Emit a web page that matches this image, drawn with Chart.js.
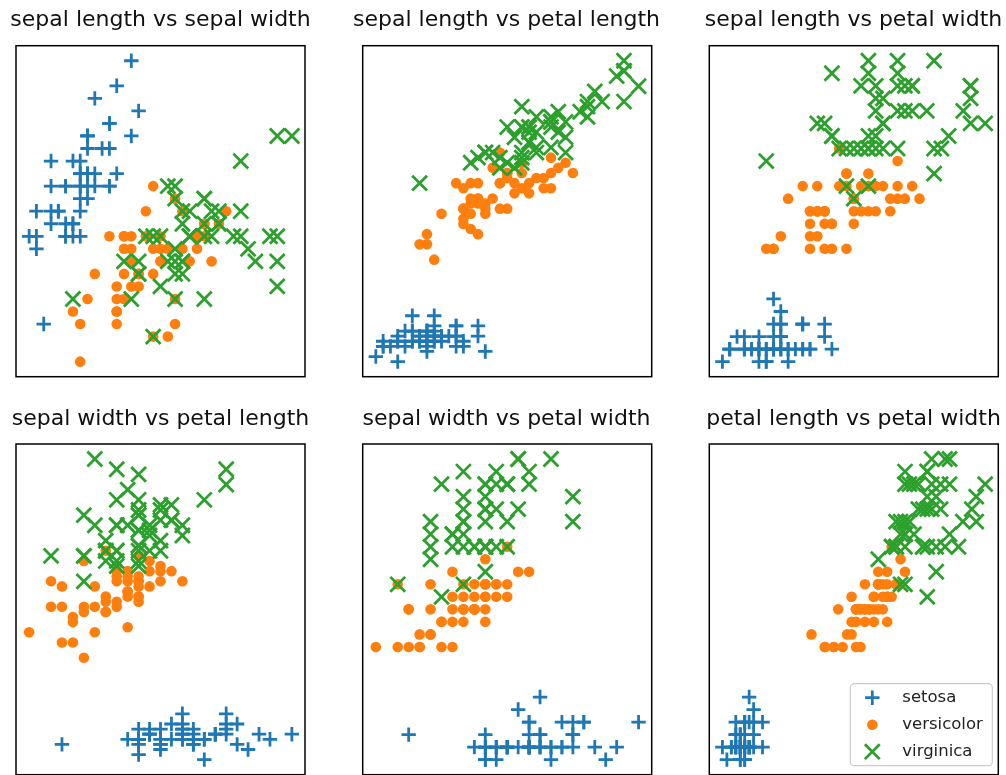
<!DOCTYPE html>
<html>
<head>
<meta charset="utf-8">
<script src="https://cdn.jsdelivr.net/npm/chart.js@4.4.1/dist/chart.umd.min.js"></script>
<style>
  html, body { margin: 0; padding: 0; background: #fff; }
  body { width: 1006px; height: 775px; overflow: hidden; position: relative; }
  canvas { position: absolute; }
</style>
</head>
<body>
<script>
// Iris data, one array per species and feature
const setosaSepalLength = [5.1,4.9,4.7,4.6,5.0,5.4,4.6,5.0,4.4,4.9,5.4,4.8,4.8,4.3,5.8,5.7,5.4,5.1,5.7,5.1,5.4,5.1,4.6,5.1,4.8,5.0,5.0,5.2,5.2,4.7,4.8,5.4,5.2,5.5,4.9,5.0,5.5,4.9,4.4,5.1,5.0,4.5,4.4,5.0,5.1,4.8,5.1,4.6,5.3,5.0];
const setosaSepalWidth  = [3.5,3.0,3.2,3.1,3.6,3.9,3.4,3.4,2.9,3.1,3.7,3.4,3.0,3.0,4.0,4.4,3.9,3.5,3.8,3.8,3.4,3.7,3.6,3.3,3.4,3.0,3.4,3.5,3.4,3.2,3.1,3.4,4.1,4.2,3.1,3.2,3.5,3.6,3.0,3.4,3.5,2.3,3.2,3.5,3.8,3.0,3.8,3.2,3.7,3.3];
const setosaPetalLength = [1.4,1.4,1.3,1.5,1.4,1.7,1.4,1.5,1.4,1.5,1.5,1.6,1.4,1.1,1.2,1.5,1.3,1.4,1.7,1.5,1.7,1.5,1.0,1.7,1.9,1.6,1.6,1.5,1.4,1.6,1.6,1.5,1.5,1.4,1.5,1.2,1.3,1.4,1.3,1.5,1.3,1.3,1.3,1.6,1.9,1.4,1.6,1.4,1.5,1.4];
const setosaPetalWidth  = [0.2,0.2,0.2,0.2,0.2,0.4,0.3,0.2,0.2,0.1,0.2,0.2,0.1,0.1,0.2,0.4,0.4,0.3,0.3,0.3,0.2,0.4,0.2,0.5,0.2,0.2,0.4,0.2,0.2,0.2,0.2,0.4,0.1,0.2,0.2,0.2,0.2,0.1,0.2,0.2,0.3,0.3,0.2,0.6,0.4,0.3,0.2,0.2,0.2,0.2];

const versicolorSepalLength = [7.0,6.4,6.9,5.5,6.5,5.7,6.3,4.9,6.6,5.2,5.0,5.9,6.0,6.1,5.6,6.7,5.6,5.8,6.2,5.6,5.9,6.1,6.3,6.1,6.4,6.6,6.8,6.7,6.0,5.7,5.5,5.5,5.8,6.0,5.4,6.0,6.7,6.3,5.6,5.5,5.5,6.1,5.8,5.0,5.6,5.7,5.7,6.2,5.1,5.7];
const versicolorSepalWidth  = [3.2,3.2,3.1,2.3,2.8,2.8,3.3,2.4,2.9,2.7,2.0,3.0,2.2,2.9,2.9,3.1,3.0,2.7,2.2,2.5,3.2,2.8,2.5,2.8,2.9,3.0,2.8,3.0,2.9,2.6,2.4,2.4,2.7,2.7,3.0,3.4,3.1,2.3,3.0,2.5,2.6,3.0,2.6,2.3,2.7,3.0,2.9,2.9,2.5,2.8];
const versicolorPetalLength = [4.7,4.5,4.9,4.0,4.6,4.5,4.7,3.3,4.6,3.9,3.5,4.2,4.0,4.7,3.6,4.4,4.5,4.1,4.5,3.9,4.8,4.0,4.9,4.7,4.3,4.4,4.8,5.0,4.5,3.5,3.8,3.7,3.9,5.1,4.5,4.5,4.7,4.4,4.1,4.0,4.4,4.6,4.0,3.3,4.2,4.2,4.2,4.3,3.0,4.1];
const versicolorPetalWidth  = [1.4,1.5,1.5,1.3,1.5,1.3,1.6,1.0,1.3,1.4,1.0,1.5,1.0,1.4,1.3,1.4,1.5,1.0,1.5,1.1,1.8,1.3,1.5,1.2,1.3,1.4,1.4,1.7,1.5,1.0,1.1,1.0,1.2,1.6,1.5,1.6,1.5,1.3,1.3,1.3,1.2,1.4,1.2,1.0,1.3,1.2,1.3,1.3,1.1,1.3];

const virginicaSepalLength = [6.3,5.8,7.1,6.3,6.5,7.6,4.9,7.3,6.7,7.2,6.5,6.4,6.8,5.7,5.8,6.4,6.5,7.7,7.7,6.0,6.9,5.6,7.7,6.3,6.7,7.2,6.2,6.1,6.4,7.2,7.4,7.9,6.4,6.3,6.1,7.7,6.3,6.4,6.0,6.9,6.7,6.9,5.8,6.8,6.7,6.7,6.3,6.5,6.2,5.9];
const virginicaSepalWidth  = [3.3,2.7,3.0,2.9,3.0,3.0,2.5,2.9,2.5,3.6,3.2,2.7,3.0,2.5,2.8,3.2,3.0,3.8,2.6,2.2,3.2,2.8,2.8,2.7,3.3,3.2,2.8,3.0,2.8,3.0,2.8,3.8,2.8,2.8,2.6,3.0,3.4,3.1,3.0,3.1,3.1,3.1,2.7,3.2,3.3,3.0,2.5,3.0,3.4,3.0];
const virginicaPetalLength = [6.0,5.1,5.9,5.6,5.8,6.6,4.5,6.3,5.8,6.1,5.1,5.3,5.5,5.0,5.1,5.3,5.5,6.7,6.9,5.0,5.7,4.9,6.7,4.9,5.7,6.0,4.8,4.9,5.6,5.8,6.1,6.4,5.6,5.1,5.6,6.1,5.6,5.5,4.8,5.4,5.6,5.1,5.1,5.9,5.7,5.2,5.0,5.2,5.4,5.1];
const virginicaPetalWidth  = [2.5,1.9,2.1,1.8,2.2,2.1,1.7,1.8,1.8,2.5,2.0,1.9,2.1,2.0,2.4,2.3,1.8,2.2,2.3,1.5,2.3,2.0,2.0,1.8,2.1,1.8,1.8,1.8,2.1,1.6,1.9,2.0,2.2,1.5,1.4,2.3,2.4,1.8,1.8,2.1,2.4,2.3,1.9,2.3,2.5,2.3,1.9,2.0,2.3,1.8];

const speciesNames = ['setosa', 'versicolor', 'virginica'];
const featureNames = ['sepal length', 'sepal width', 'petal length', 'petal width'];
// axis limits = data range + 5% margin on each side
const featureMin = [4.12, 1.88, 0.705, -0.02];
const featureMax = [8.08, 4.52, 7.195, 2.62];
// pairs of features, one per panel
const panelPairs = [[0, 1], [0, 2], [0, 3], [1, 2], [1, 3], [2, 3]];

const speciesData = [
    [setosaSepalLength, setosaSepalWidth, setosaPetalLength, setosaPetalWidth],
    [versicolorSepalLength, versicolorSepalWidth, versicolorPetalLength, versicolorPetalWidth],
    [virginicaSepalLength, virginicaSepalWidth, virginicaPetalLength, virginicaPetalWidth]
];

const COLORS = ['#1f77b4', '#ff7f0e', '#2ca02c'];
const FONT = "'DejaVu Sans', sans-serif";

// geometry of the panels on the page
const colLeft = [16, 362.7, 709.3];
const rowTop = [45.7, 444];
const PANEL_W = 289;
const PANEL_H = 332;
const TITLE_SIZE = 22;
const TITLE_PAD_TOP = 7;
const TITLE_PAD_BOTTOM = 12;
const TITLE_BLOCK = TITLE_SIZE * 1.2 + TITLE_PAD_TOP + TITLE_PAD_BOTTOM;
const SIDE = 24; // free space on each side of a panel inside its canvas

function styleFor(s) {
    if (s === 0) return { pointStyle: 'cross', pointRadius: 7.2, borderColor: COLORS[0], backgroundColor: COLORS[0], pointBorderWidth: 2.8 };
    if (s === 1) return { pointStyle: 'circle', pointRadius: 5.3, borderColor: COLORS[1], backgroundColor: COLORS[1], pointBorderWidth: 0 };
    return { pointStyle: 'crossRot', pointRadius: 10.5, borderColor: COLORS[2], backgroundColor: COLORS[2], pointBorderWidth: 2.8 };
}

const framePlugin = {
    id: 'frame',
    afterDatasetsDraw(chart) {
        const { ctx, chartArea: a } = chart;
        ctx.save();
        ctx.strokeStyle = '#000';
        ctx.lineWidth = 1.5;
        ctx.strokeRect(a.left, a.top, a.right - a.left, a.bottom - a.top);
        ctx.restore();
    }
};

const legendPlugin = {
    id: 'boxLegend',
    afterDraw(chart) {
        const { ctx, chartArea: a } = chart;
        const w = 142, h = 82;
        const x = a.right - 6 - w, y = a.bottom - 9 - h;
        ctx.save();
        ctx.beginPath();
        ctx.roundRect(x, y, w, h, 4);
        ctx.fillStyle = 'rgba(255,255,255,0.8)';
        ctx.fill();
        ctx.strokeStyle = '#cccccc';
        ctx.lineWidth = 1.2;
        ctx.stroke();
        ctx.font = '16.5px ' + FONT;
        ctx.textBaseline = 'middle';
        speciesNames.forEach((name, s) => {
            const st = styleFor(s);
            const cy = y + 14 + s * 27;
            ctx.strokeStyle = st.borderColor;
            ctx.fillStyle = st.backgroundColor;
            ctx.lineWidth = st.pointBorderWidth;
            Chart.helpers.drawPoint(ctx, { pointStyle: st.pointStyle, radius: st.pointRadius, borderWidth: st.pointBorderWidth }, x + 22, cy);
            ctx.fillStyle = '#222';
            ctx.fillText(name, x + 52, cy);
        });
        ctx.restore();
    }
};

panelPairs.forEach((pair, p) => {
    const row = Math.floor(p / 3), col = p % 3;
    const [fx, fy] = pair;

    const canvasLeft = Math.floor(colLeft[col]) - SIDE;
    const canvasTop = Math.floor(rowTop[row] - TITLE_BLOCK);
    const canvasW = PANEL_W + 2 * SIDE;
    const canvasH = 390;
    const leftSpace = colLeft[col] - canvasLeft;
    const rightSpace = canvasW - leftSpace - PANEL_W;
    const padTop = rowTop[row] - canvasTop - TITLE_BLOCK;

    const canvas = document.createElement('canvas');
    canvas.width = canvasW;
    canvas.height = canvasH;
    canvas.style.left = canvasLeft + 'px';
    canvas.style.top = canvasTop + 'px';
    document.body.appendChild(canvas);

    const datasets = speciesData.map((feat, s) => {
        const st = styleFor(s);
        return {
            label: speciesNames[s],
            data: feat[fx].map((v, i) => ({ x: v, y: feat[fy][i] })),
            pointStyle: st.pointStyle,
            pointRadius: st.pointRadius,
            pointHoverRadius: st.pointRadius,
            pointBorderColor: st.borderColor,
            pointBackgroundColor: st.backgroundColor,
            pointBorderWidth: st.pointBorderWidth,
            order: 2 - s,
            clip: 0
        };
    });

    const hidden = {
        ticks: { display: false },
        grid: { display: false, drawTicks: false },
        border: { display: false }
    };

    new Chart(canvas.getContext('2d'), {
        type: 'scatter',
        data: { datasets },
        options: {
            responsive: false,
            animation: false,
            devicePixelRatio: 1,
            layout: {
                // side margins come from the y axes so the title can use the full canvas width
                padding: { left: 0, right: 0, top: padTop, bottom: canvasH - (rowTop[row] - canvasTop) - PANEL_H }
            },
            plugins: {
                legend: { display: false },
                tooltip: { enabled: false },
                title: {
                    display: true,
                    text: featureNames[fx] + ' vs ' + featureNames[fy],
                    color: '#111',
                    font: { family: FONT, size: TITLE_SIZE, weight: 'normal', lineHeight: 1.2 },
                    padding: { top: TITLE_PAD_TOP, bottom: TITLE_PAD_BOTTOM }
                }
            },
            scales: {
                x: { type: 'linear', min: featureMin[fx], max: featureMax[fx], ...hidden },
                y: {
                    type: 'linear', position: 'left', min: featureMin[fy], max: featureMax[fy], ...hidden,
                    afterFit: (scale) => { scale.width = leftSpace; }
                },
                yRight: {
                    type: 'linear', position: 'right', min: 0, max: 1, ...hidden,
                    afterFit: (scale) => { scale.width = rightSpace; }
                }
            }
        },
        plugins: p === 5 ? [framePlugin, legendPlugin] : [framePlugin]
    });
});
</script>
</body>
</html>
